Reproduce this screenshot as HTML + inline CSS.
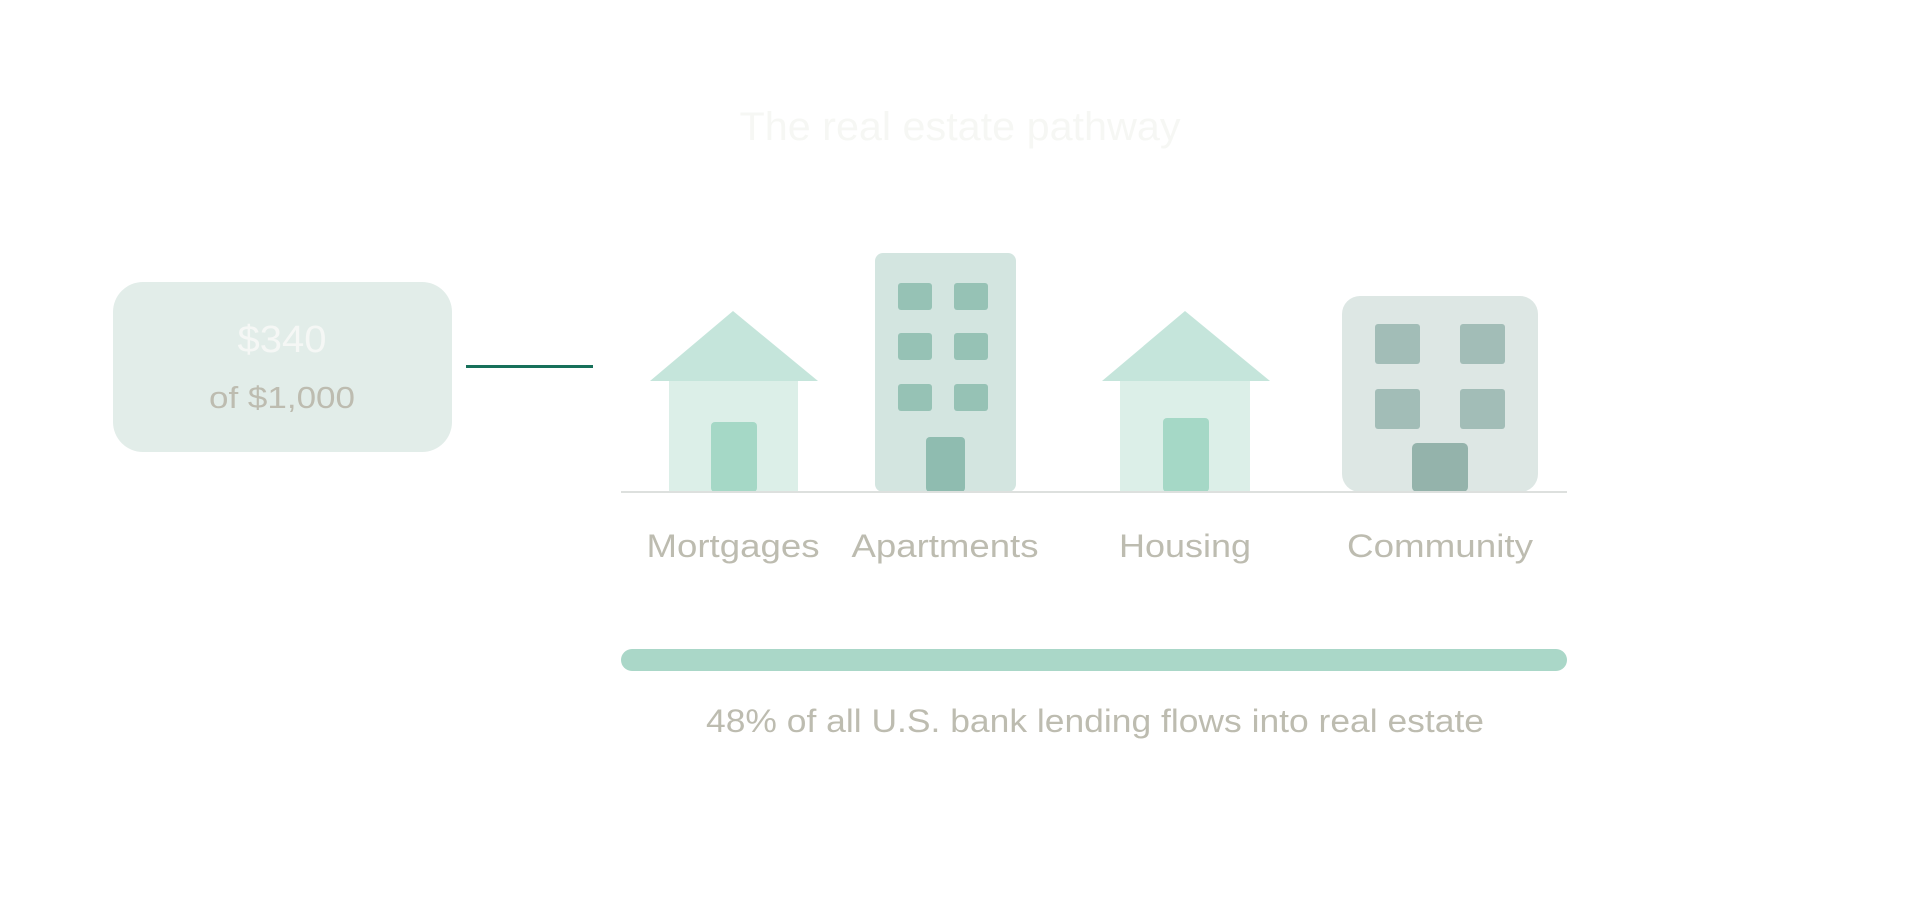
<!DOCTYPE html>
<html><head><meta charset="utf-8"><style>
html,body{margin:0;padding:0;background:#fff;width:1920px;height:903px;overflow:hidden}
svg{display:block}
text{font-family:"Liberation Sans",sans-serif}
</style></head><body>
<svg width="1920" height="903" viewBox="0 0 1920 903">
<text x="960" y="140" text-anchor="middle" font-size="40" fill="#f6f7f4" textLength="441" lengthAdjust="spacingAndGlyphs">The real estate pathway</text>
<rect x="113" y="282" width="339" height="170" rx="30" fill="#e2ede9"/>
<text x="282" y="352" text-anchor="middle" font-size="38" fill="#f5f7f5" textLength="89" lengthAdjust="spacingAndGlyphs">$340</text>
<text x="282" y="408" text-anchor="middle" font-size="31" fill="#bdbcb0" textLength="146" lengthAdjust="spacingAndGlyphs">of $1,000</text>
<rect x="466" y="365" width="127" height="3" fill="#17705a"/>
<rect x="669" y="381" width="129" height="111" fill="#dcefe8"/>
<polygon points="650,381 733,311 818,381" fill="#c5e5db"/>
<rect x="711" y="422" width="46" height="70" rx="4" fill="#a5d8c6"/>
<rect x="875" y="253" width="141" height="239" rx="8" fill="#d3e5e0"/>
<g fill="#96c2b5">
<rect x="898" y="283" width="34" height="27" rx="3"/><rect x="954" y="283" width="34" height="27" rx="3"/>
<rect x="898" y="333" width="34" height="27" rx="3"/><rect x="954" y="333" width="34" height="27" rx="3"/>
<rect x="898" y="384" width="34" height="27" rx="3"/><rect x="954" y="384" width="34" height="27" rx="3"/>
</g>
<rect x="926" y="437" width="39" height="55" rx="4" fill="#8fbcb0"/>
<rect x="1120" y="381" width="130" height="111" fill="#dcefe8"/>
<polygon points="1102,381 1185,311 1270,381" fill="#c5e5db"/>
<rect x="1163" y="418" width="46" height="74" rx="4" fill="#a5d8c6"/>
<rect x="1342" y="296" width="196" height="196" rx="18" fill="#dde7e4"/>
<g fill="#a2bdb7">
<rect x="1375" y="324" width="45" height="40" rx="3"/><rect x="1460" y="324" width="45" height="40" rx="3"/>
<rect x="1375" y="389" width="45" height="40" rx="3"/><rect x="1460" y="389" width="45" height="40" rx="3"/>
</g>
<rect x="1412" y="443" width="56" height="49" rx="5" fill="#94b3ab"/>
<rect x="621" y="491" width="946" height="2" fill="#dde0de"/>
<g font-size="32" fill="#bdbcb0" text-anchor="middle">
<text x="733" y="557" textLength="173" lengthAdjust="spacingAndGlyphs">Mortgages</text>
<text x="945" y="557" textLength="187" lengthAdjust="spacingAndGlyphs">Apartments</text>
<text x="1185" y="557" textLength="132" lengthAdjust="spacingAndGlyphs">Housing</text>
<text x="1440" y="557" textLength="186" lengthAdjust="spacingAndGlyphs">Community</text>
</g>
<rect x="621" y="649" width="946" height="22" rx="11" fill="#aad7c8"/>
<text x="1095" y="732" text-anchor="middle" font-size="32" fill="#bdbcb0" textLength="778" lengthAdjust="spacingAndGlyphs">48% of all U.S. bank lending flows into real estate</text>
</svg>
</body></html>
